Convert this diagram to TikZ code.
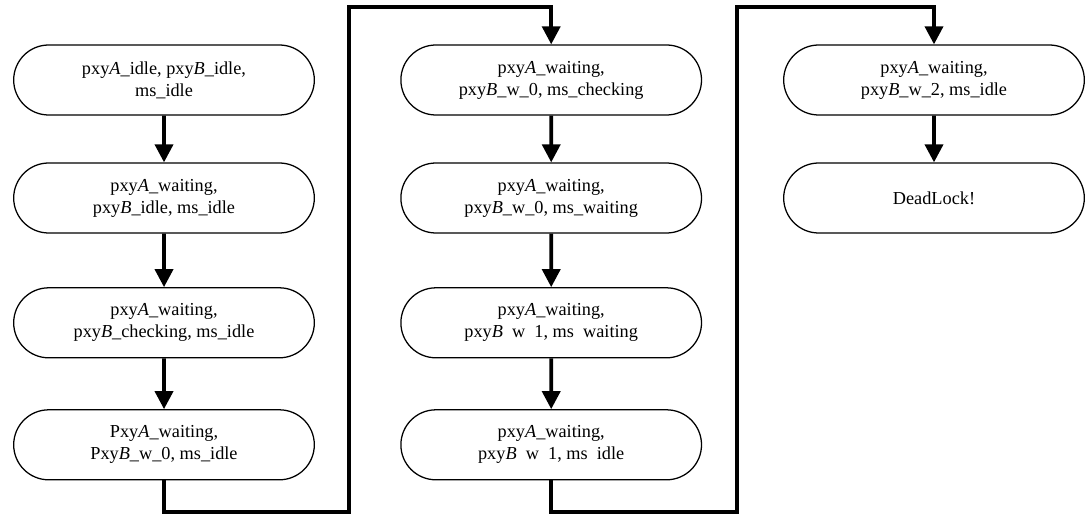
\documentclass[tikz,border=0pt]{standalone}
\usepackage{fontspec}
\setmainfont{Liberation Serif}
\usetikzlibrary{shapes.misc,arrows.meta}

\newcommand{\pxA}{pxy\textit{A}}
\newcommand{\pxB}{pxy\textit{B}}

\tikzset{
  state/.style={rounded rectangle, draw, line width=0.9pt,
    minimum width=7.75cm, minimum height=1.75cm, align=center,
    font=\fontsize{13}{15.6}\selectfont},
  flow/.style={line width=2.6pt, line join=miter,
    -{Triangle[length=0.45cm,width=0.45cm]}}
}

\begin{document}
\begin{tikzpicture}[x=1cm,y=1cm]
  \useasboundingbox (0,0) rectangle (27.3,12.9);

  % ============================================================
  %                       PARAMETERS
  % ============================================================
  \def\colA{4.1}
  \def\colB{13.78}
  \def\colC{23.35}
  \def\rowA{10.9}
  \def\rowB{7.95}
  \def\rowC{4.83}
  \def\rowD{1.78}
  \def\lowY{0.1}     % bottom run of the jump lines
  \def\topY{12.72}   % top run of the jump lines

  % ============================================================
  %                       FIRST COLUMN
  % ============================================================
  \node[state] (stInit)   at (\colA,\rowA) {\pxA\_idle, \pxB\_idle,\\ms\_idle};
  \node[state] (stWaitA)  at (\colA,\rowB) {\pxA\_waiting,\\\pxB\_idle, ms\_idle};
  \node[state] (stCheckB) at (\colA,\rowC) {\pxA\_waiting,\\\pxB\_checking, ms\_idle};
  \node[state] (stWaitB)  at (\colA,\rowD) {Pxy\textit{A}\_waiting,\\Pxy\textit{B}\_w\_0, ms\_idle};

  % ============================================================
  %                       SECOND COLUMN
  % ============================================================
  \node[state] (stMsCheck) at (\colB,\rowA) {\pxA\_waiting,\\\pxB\_w\_0, ms\_checking};
  \node[state] (stMsWait)  at (\colB,\rowB) {\pxA\_waiting,\\\pxB\_w\_0, ms\_waiting};
  \node[state] (stOneWait) at (\colB,\rowC) {\pxA\_waiting,\\\pxB\ \ w\ \ 1, ms\ \ waiting};
  \node[state] (stOneIdle) at (\colB,\rowD) {\pxA\_waiting,\\\pxB\ \ w\ \ 1, ms\ \ idle};

  % ============================================================
  %                       THIRD COLUMN
  % ============================================================
  \node[state] (stTwoIdle) at (\colC,\rowA) {\pxA\_waiting,\\\pxB\_w\_2, ms\_idle};
  \node[state] (stDead)    at (\colC,\rowB) {DeadLock!};

  \coordinate (jumpAlow) at (8.72,\lowY);
  \coordinate (jumpAtop) at (8.72,\topY);
  \coordinate (jumpBlow) at (18.42,\lowY);
  \coordinate (jumpBtop) at (18.42,\topY);

  % ============================================================
  %                       TRANSITIONS
  % ============================================================
  \draw[flow] (stInit) -- (stWaitA);
  \draw[flow] (stWaitA) -- (stCheckB);
  \draw[flow] (stCheckB) -- (stWaitB);
  \draw[flow] (stWaitB.south) |- (jumpAlow) -- (jumpAtop) -| (stMsCheck.north);

  \draw[flow] (stMsCheck) -- (stMsWait);
  \draw[flow] (stMsWait) -- (stOneWait);
  \draw[flow] (stOneWait) -- (stOneIdle);
  \draw[flow] (stOneIdle.south) |- (jumpBlow) -- (jumpBtop) -| (stTwoIdle.north);

  \draw[flow] (stTwoIdle) -- (stDead);

\end{tikzpicture}
\end{document}
